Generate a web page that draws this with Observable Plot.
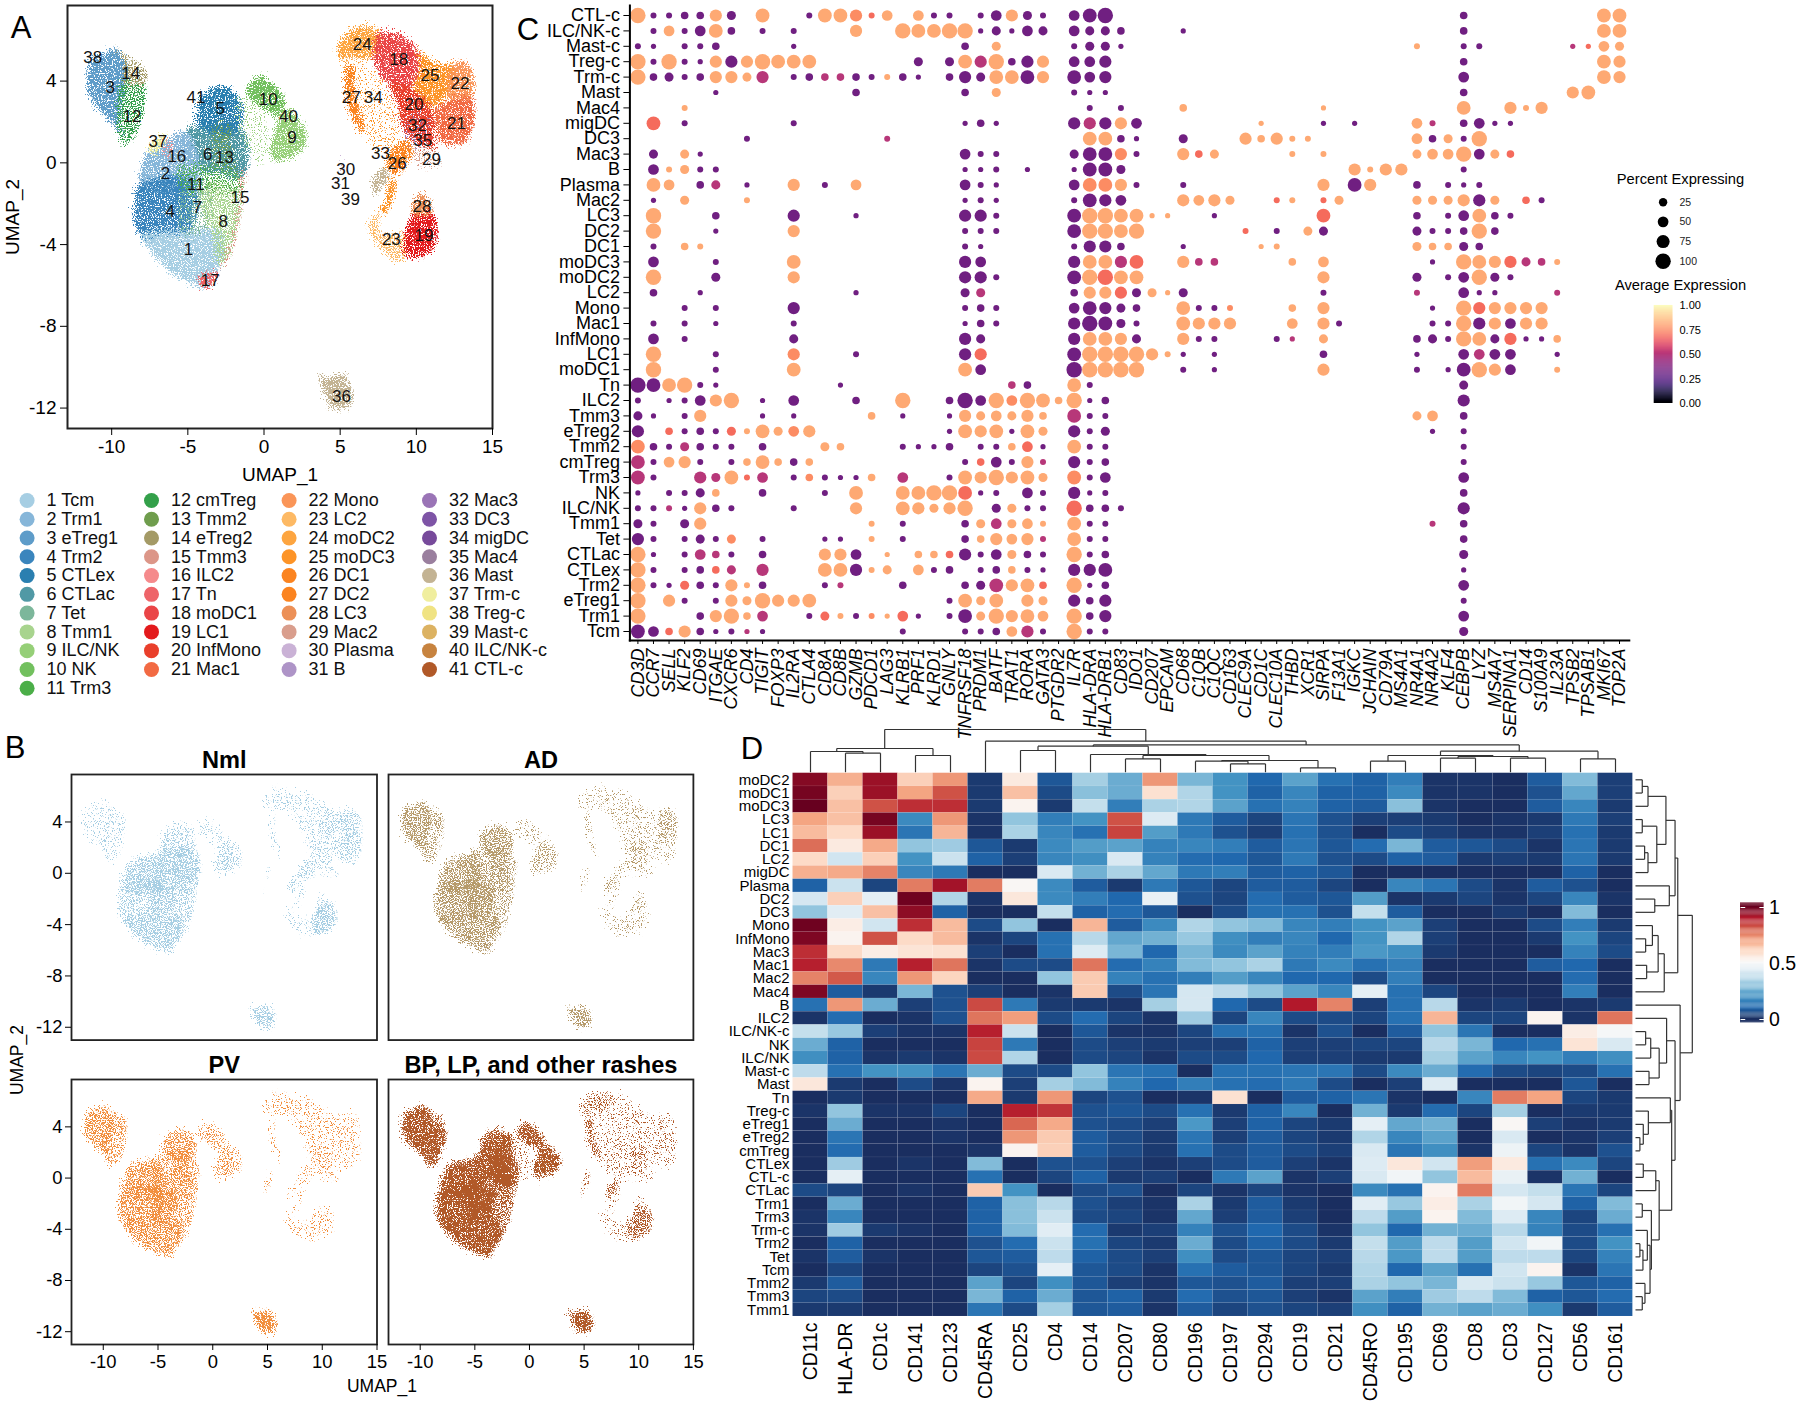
<!DOCTYPE html>
<html>
<head>
<meta charset="utf-8">
<script src="https://cdn.jsdelivr.net/npm/d3@7"></script>
<script src="https://cdn.jsdelivr.net/npm/@observablehq/plot@0.6"></script>
<style>
html,body{margin:0;padding:0;background:#fff}
#stage{position:relative;width:1800px;height:1406px;overflow:hidden;font-family:"Liberation Sans",Arial,sans-serif;color:#000}
.lab{position:absolute;white-space:nowrap;line-height:1}
</style>
</head>
<body>
<svg width="0" height="0" style="position:absolute" id="defs"></svg>
<div id="stage"></div>
<script>
/* ---------- cluster names and colours ---------- */
const clusterNames = ["Tcm","Trm1","eTreg1","Trm2","CTLex","CTLac","Tet","Tmm1","ILC/NK","NK","Trm3","cmTreg","Tmm2","eTreg2","Tmm3","ILC2","Tn","moDC1","LC1","InfMono","Mac1","Mono","LC2","moDC2","moDC3","DC1","DC2","LC3","Mac2","Plasma","B","Mac3","DC3","migDC","Mac4","Mast","Trm-c","Treg-c","Mast-c","ILC/NK-c","CTL-c"];
const clusterColors = ["#a6cee3","#86b6d9","#5e9cc9","#3a85bd","#2a7fb0","#5199a5","#7cb79b","#a8d48e","#95cf77","#72c05e","#4bae48","#33a04a","#6f9d4d","#a49a66","#dc9688","#f58a8c","#ee6469","#ea4547","#e31a1c","#e93f2b","#f26a43","#fa9558","#fdb964","#fda540","#fd9427","#fb8420","#fb8420","#ec9057","#d99e8d","#cab2d6","#ae94c7","#9a74b6","#7e54a6","#774a9b","#9a7f9e","#c3b393","#f0ee9e","#f0e383","#dcb262","#c7833f","#b15928"];
const legendSplits = [11,21,31,41];

/* ---------- UMAP cluster label positions (UMAP_1, UMAP_2) ---------- */
const clusterLabelXY = [[-4.96,-4.24],[-6.47,-.5],[-10.1,3.67],[-6.16,-2.4],[-2.87,2.64],[-3.7,.39],[-4.36,-2.17],[-2.67,-2.89],[1.84,1.22],[.28,3.08],[-4.47,-1.06],[-8.66,2.27],[-2.6,.26],[-8.75,4.36],[-1.58,-1.68],[-5.72,.29],[-3.53,-5.76],[8.84,5.07],[10.5,-3.57],[9.85,2.85],[12.63,1.92],[12.87,3.87],[8.36,-3.75],[6.45,5.81],[10.9,4.29],[8.75,-.05],[5.72,3.18],[10.37,-2.14],[10.99,.16],[5.37,-.34],[5.02,-1],[10.07,1.84],[7.65,.46],[7.17,3.18],[10.42,1.09],[5.09,-11.44],[-6.97,1.03],[-11.25,5.15],[5.68,-1.81],[1.6,2.25],[-4.47,3.18]];

/* ---------- UMAP region outlines ---------- */
const regionIds = ["3","12","14","6","5","13","2","4","1","7","8","11","15","17","16","37","gsc","10","9","ring","24","18","25","22","21","20","3235","29","26","27","36s","23s","23","19","28","30","36"];
const regionCluster = [3,12,14,6,5,13,2,4,1,7,8,11,15,17,16,37,9,10,9,25,24,18,25,22,21,20,32,29,26,27,36,25,23,19,28,30,36];
const regionShapes = [
 [[-10.7,5.25],[-9.7,5.6],[-9.1,5],[-8.9,4],[-9.2,3.05],[-9.4,1.9],[-9.1,1.25],[-9.85,1.9],[-10.9,2.7],[-11.5,3.55],[-11.5,4.5],[-11.2,5.2]],
 [[-9.2,4],[-7.75,3.85],[-7.65,3.05],[-8.1,1.75],[-8.4,1.25],[-9.1,.95],[-9.5,1.75],[-9.5,3.05]],
 [[-9.7,5.6],[-8.5,5],[-7.75,4.6],[-7.65,3.85],[-9.1,4],[-9.1,5]],
 [[-5,1.65],[-3.25,1.9],[-1.6,1.75],[-.95,.75],[-1.4,-.7],[-3.05,-.55],[-4.15,-.4],[-5.35,.3]],
 [[-4.15,3.2],[-3.05,3.75],[-2.15,3.6],[-1.5,3.05],[-1.4,1.9],[-1.95,1.4],[-3.25,1.4],[-4.35,1.9],[-4.35,2.55]],
 [[-3.05,1.85],[-1.95,1.9],[-1.95,.75],[-1.5,-.35],[-3.05,-.35],[-3.25,.75]],
 [[-7.55,.6],[-6.35,1.15],[-5,1.5],[-4.15,-.2],[-4.35,-1.35],[-7.85,-1.35],[-8.1,-.7]],
 [[-8.15,-1.1],[-4.6,-.85],[-4.8,-3.3],[-6.75,-3.65],[-7.65,-3.8],[-8.3,-3.3],[-8.4,-2.15]],
 [[-8,-3.5],[-5,-3.3],[-2.85,-3.3],[-2.6,-4.6],[-3.05,-5.25],[-3.7,-6.1],[-4.8,-5.85],[-5.9,-5.45],[-7.1,-4.6],[-7.75,-3.95]],
 [[-5.15,-1.35],[-3.25,-.95],[-3.6,-3.3],[-5.15,-3.5]],
 [[-3.9,-1.1],[-1.4,-1.35],[-1.6,-3],[-2.15,-4.45],[-2.85,-4.95],[-3.25,-3.5],[-3.9,-2.5]],
 [[-5.45,-.2],[-3.25,-.15],[-1.2,-.55],[-1.3,-1.35],[-3.7,-1.35],[-5.25,-1.35]],
 [[-1.35,-.45],[-.95,-.45],[-1.2,-1.7],[-1.45,-3.15],[-2.15,-4.7],[-2.7,-5.1],[-2.4,-4.6],[-1.7,-3],[-1.4,-1.35]],
 [[-4.35,-5.75],[-3.05,-5.35],[-3.25,-5.9],[-3.7,-6.1]],
 [[-6.35,1.15],[-5.7,.75],[-5.9,.3],[-6.45,.45]],
 [[-7.55,.7],[-7,1.15],[-6.35,1.35],[-6.55,.95],[-7.2,.45]],
 [[-1.4,3.2],[.25,2.55],[.45,.75],[.05,-.05],[-.85,.75],[-1.4,1.6]],
 [[-1.05,3.65],[-.3,4.25],[.25,4.1],[1.45,2.9],[.9,2.3],[0,2.65],[-1.05,3.3]],
 [[1,2.3],[1.55,2.65],[2.45,2],[2.85,1.4],[2.65,.7],[1.8,.3],[.7,.1],[.45,.75],[.8,1.6]],
 [[5.5,5],[8.35,3.85],[9.25,1.6],[8.35,.3],[6.8,1.4],[5.95,3.2]],
 [[4.85,5.65],[5.7,6.45],[6.8,6.7],[7.7,6.3],[7.25,5.15],[5.95,5.15],[5.05,5.1]],
 [[7.5,6.3],[9.05,6.25],[10.1,5.5],[10.35,4.75],[9.65,3.7],[8.35,3.85],[7.35,4.85]],
 [[10.1,5.5],[11.4,4.85],[12.5,4.75],[12.3,3.55],[11,2.7],[9.9,3.7],[10.35,4.75]],
 [[12.3,4.7],[13.05,5],[13.7,4.45],[13.7,3.2],[12.3,2.9],[12.1,3.85]],
 [[11.2,2.55],[12.3,3.05],[13.7,3.2],[13.7,1.6],[13.05,.95],[11.85,1],[11.3,1.75]],
 [[8.35,3.85],[9.65,3.7],[11,2.7],[11.3,1.4],[11.2,.75],[10.1,.95],[9.25,1.6],[8.8,2.9]],
 [[9.55,2.25],[11,2.25],[11,.75],[9.8,.6]],
 [[9.8,.6],[11.2,.75],[11.85,.1],[10.55,-.15]],
 [[8.15,.3],[9.35,1.1],[9.8,.6],[8.8,-.55],[8.25,-.4]],
 [[5.5,4.7],[5.9,4.7],[6.05,3.2],[6.6,1.85],[6.4,1.5],[5.95,2.05],[5.5,3.05]],
 [[7.15,-1],[7.7,-.35],[8.25,-.4],[7.7,-1.35],[7.35,-1.5]],
 [[8.35,-.85],[8.65,-.85],[8.45,-1.85],[7.9,-2.5],[7.6,-2.5],[8.05,-1.85]],
 [[6.95,-3],[7.6,-2.5],[7.9,-3.5],[9.25,-3.5],[9.45,-4.6],[8.9,-4.85],[8.15,-4.45],[7.5,-3.95]],
 [[9.9,-2.5],[11,-2.4],[11.4,-3.15],[11.2,-4.1],[10.35,-4.6],[9.45,-4.6],[9.25,-3.8]],
 [[9.9,-1.85],[10.45,-1.5],[11,-2],[11,-2.45],[9.9,-2.6]],
 [[4.85,-1.35],[5.3,-.05],[5.55,.45],[5.6,-.2],[5.05,-1]],
 [[3.65,-10.25],[3.95,-10.55],[5.3,-10.4],[5.85,-11.45],[5.5,-11.95],[4.6,-11.95],[3.95,-11.15]]
];
/* density level per region: 0 none, 1 sparse, 2 medium, 3 full, 4 solid */
const densityAll = [4,3,3,4,4,2,4,4,4,2,3,2,2,4,2,4,1,4,4,1,4,4,4,4,4,4,1,2,4,4,4,4,3,4,4,1,4];
const densityNml = [1,1,1,3,2,1,3,2,3,2,2,2,0,1,1,0,0,1,2,0,1,1,2,2,2,1,1,1,2,1,2,2,1,3,1,1,3];
const densityAD  = [3,2,2,2,3,2,3,3,3,3,2,2,0,1,2,1,0,1,2,0,1,1,1,2,1,1,1,1,1,1,2,1,1,1,1,2,3];
const densityPV  = [3,2,2,2,3,2,3,3,3,3,2,2,0,1,2,2,0,2,2,0,1,1,1,1,1,1,1,1,1,1,1,1,1,1,0,2,4];
const densityBP  = [4,4,3,4,4,4,4,4,4,4,3,3,0,3,4,4,1,4,4,1,2,1,1,1,1,1,1,1,1,3,3,1,1,3,1,3,4];
const panelTitles = ["Nml","AD","PV","BP, LP, and other rashes"];
const panelColors = ["#a6cee3","#b69a6a","#f28e3c","#b15928"];

/* ---------- dot plot ---------- */
const dotCells = ["CTL-c","ILC/NK-c","Mast-c","Treg-c","Trm-c","Mast","Mac4","migDC","DC3","Mac3","B","Plasma","Mac2","LC3","DC2","DC1","moDC3","moDC2","LC2","Mono","Mac1","InfMono","LC1","moDC1","Tn","ILC2","Tmm3","eTreg2","Tmm2","cmTreg","Trm3","NK","ILC/NK","Tmm1","Tet","CTLac","CTLex","Trm2","eTreg1","Trm1","Tcm"];
const dotGenes = ["CD3D","CCR7","SELL","KLF2","CD69","ITGAE","CXCR6","CD4","TIGIT","FOXP3","IL2RA","CTLA4","CD8A","CD8B","GZMB","PDCD1","LAG3","KLRB1","PRF1","KLRD1","GNLY","TNFRSF18","PRDM1","BATF","TRAT1","RORA","GATA3","PTGDR2","IL7R","HLA-DRA","HLA-DRB1","CD83","IDO1","CD207","EPCAM","CD68","C1QB","C1QC","CD163","CLEC9A","CD1C","CLEC10A","THBD","XCR1","SIRPA","F13A1","IGKC","JCHAIN","CD79A","MS4A1","NR4A1","NR4A2","KLF4","CEBPB","LYZ","MS4A7","SERPINA1","CD14","S100A9","IL23A","TPSB2","TPSAB1","MKI67","TOP2A"];
/* gene index, expression class, size class */
const dotTokens = [
"0o8 1p2 2p2 3p3 4p3 5o6 6p4 8o7 11p2 12o7 13o7 14s6 15r2 16o5 18o5 19p2 20p2 22p2 23p5 24o6 25p4 26p2 28p5 29p7 30p8 53p3 62o7 63o7",
"1p2 2o5 3p2 4p5 5o7 6p3 8p2 10p2 14o6 17o8 18o7 19o7 20o8 21o8 22p1 23p4 24p1 25p5 26p4 28p5 29p4 30p4 31p3 35p1 53p3 62o7 63o7",
"0p2 1p1 3p2 4p2 5p3 10p1 21p3 23o4 28p2 29p4 30p4 31p1 50o2 53p2 54p2 60m1 61r1 62o5 63o4",
"0o8 1p2 2o8 3p2 4p1 5o6 6p6 7o6 8o8 9o7 10o7 11o7 18p4 20p4 21o7 22m6 23o8 24p3 25p6 26o6 28p5 29p5 30p6 53p3 62o7 63o6",
"0o8 1p3 2p4 3p2 4p3 5o6 6o6 7o4 8m6 10p2 11p3 12m3 13m3 14p3 15p2 16o2 17p3 18p1 20p3 21p6 22p4 23o7 24o7 25p7 26o6 28p7 29p5 30p6 53p5 62o7 63o6",
"5p1 14p3 21p3 23o4 28p2 29p1 30p1 53p3 60o6 61o7",
"3o2 29p2 31p2 35o3 44o1 53o7 56o6 57o2 58o6",
"1r7 3p2 10p2 21p1 22p3 23p1 28p6 29m6 30p6 31o6 32p5 40o1 44p1 46p1 50o5 51m2 53p3 54p5 55p1 56p1",
"7p2 16m2 29o7 30o7 31p3 32p1 35p4 39o6 40o3 41o6 42o2 43o2 50o5 51p3 52o4 53p2 54o8",
"1p4 3o4 4p1 21p5 22p2 23p2 28p4 29p7 30p7 31s6 32p2 35o6 36r3 37o4 42o2 44o2 50o4 51o5 52o5 53o8 54p5 55o4 56r3",
"1p5 2o2 3o4 4p2 5p2 21p1 22p1 23p2 25p1 28p1 29p7 30p7 31p4 46o6 47o2 48o6 49o6 53p2",
"1o7 2o5 4p3 5m4 7p1 10o6 12p2 14o5 21p5 22p2 23p1 28p5 29s7 30s7 31o6 32p2 35p2 44o6 46p7 47o6 50p3 52p2 53p1 54p2",
"1p1 3o4 7o2 21p1 22p2 23p1 28p2 29p7 30p6 31p5 35o6 36o5 37o6 38o4 41r2 42o2 44r2 45o4 50o4 51o4 52o4 53o6 54p6 55o4 57r3 58p2",
"1o8 5p3 10p6 14p1 21p6 22p6 23p2 28p7 29o8 30o8 31o7 32o7 33o1 34o1 37p1 44r7 50p3 52p2 53p5 54o7 55p3 56p2",
"1o8 5p1 10o6 21p2 22p2 23p2 28p7 29o8 30o8 31o7 32o8 39r2 41p2 43o4 44p4 50p4 51p2 52p2 53p3 54o8 55p3",
"1p2 3o3 4o2 21p2 22p1 28p2 29p6 30p6 31p3 35p1 40o1 41o2 50o4 51o3 52o3 53p4 54p3",
"1p5 5p2 10o7 21p6 22p5 28p6 29o7 30o7 31m6 32r7 35o6 36m3 37m3 42o3 44o5 51p1 53o8 54o7 55o6 56r6 57m4 58m3 59o2",
"1o8 5p4 10o6 21p6 22p6 23p2 28p7 29o8 30r8 31o7 32o7 44o6 50p4 52p2 53p5 54o8 55p4 56p2",
"1p3 4p1 14p1 21p4 22m4 28p3 29o6 30o6 31r6 32p4 33o4 34o1 35p4 44p2 50m2 53p5 54p1 55p1 59m2",
"3p2 5p2 10p6 21p2 22p3 23p2 28p5 29p7 30p6 31p4 32p3 35o7 36p2 37p2 38s2 42o3 44o6 51p1 53o8 54r6 55o6 56o6 57o6 58o6",
"1p2 3p2 5p1 10p2 21p1 22p3 23p2 28p6 29p8 30p7 31p4 32p2 35o7 36o6 37o6 38o6 42o5 44o6 45p2 51p2 52p2 53o8 54p6 55o6 56p5 57o6 58o6",
"1p5 3p2 10p4 21p6 22p4 28p6 29o7 30o7 31o6 32p4 35o6 36p2 37p2 41p2 42m1 44o4 50p3 51p4 52p2 53o8 54o7 55p4 56r6 57p1 58p1 59o3",
"1o8 5p2 10s6 14p2 21p6 22r6 28p7 29o8 30o8 31o8 32o8 33o6 34o2 35p1 37p1 44p3 50p1 53p5 54m5 55p5 56p5 59p1",
"1o8 5p2 10o7 21o7 22p5 28p8 29o8 30o8 31o8 32o8 35p2 37p1 44o6 50p2 52p1 53p7 54o8 55o6 56p5 59o2",
"0p8 1p7 2o7 3o8 4p2 5p1 13p1 24m3 25p3 28o7 29p2 53p4",
"0p2 2p1 3p2 4p5 5o6 6o8 8p1 10p5 14p3 17o8 20p3 21p8 22p5 23o8 24s5 25o8 26o7 27o3 28o8 29p1 30p3 53p6",
"0p4 1p1 3p2 4o6 8p1 10p1 15o3 17p1 20p1 21o6 22o4 23o5 24o4 25o6 26o3 28m7 29p2 30p2 50o4 51o5 53p3",
"0p6 2r3 3p2 4p3 5p2 6r4 7o2 8o7 9o4 10s5 11o6 20p1 21o7 22o6 23o7 24p1 25o7 26o4 28p6 29p2 30p4 51p1 53p2",
"0s7 1p3 2p2 3m4 4p3 5p2 6p2 8p3 12o4 13o3 17p2 18p1 19p1 20p3 22p2 23p2 24o3 25r5 26p1 28o7 29p2 30p2 53p2",
"0m7 1p2 2o5 3o6 4p2 6p2 7o3 8o7 9o3 10p3 11o3 21p2 22r3 23p5 24p2 25o6 26m2 28p6 29p2 30p3 53p2",
"0m7 1p2 4m6 5m4 6o7 7r2 8m5 10p2 11s3 12p2 13p1 14p1 15o3 17m5 20p2 21o7 22o6 23o8 24o6 25o7 26o4 28s7 29p2 30p5 53p5",
"0p1 2p2 3p2 4p4 5o3 8p3 12p2 14o7 17o7 18o7 19o8 20o8 21r7 22p1 23p2 25p5 26p2 28p6 29p1 30p2 53p3",
"0p2 1p2 2m2 3p1 4o6 5p3 6p2 10p2 14o6 17o7 18o6 19o4 20o6 21o8 23p4 24o4 25p2 26p2 28r8 29p3 30p3 31p2 53p6",
"0p4 1p2 3p4 4o6 15o2 17p2 21p3 22o4 23m5 24o4 25o5 26o2 28o7 29p2 30p2 51m2 53p3",
"0p6 1p2 3p2 4p4 5p2 6s4 8p2 12p1 13p1 15o2 17p2 21p3 22o3 23o6 24o5 25o6 26m2 28o7 29p2 30p2 53p3",
"0o8 1p1 3p2 4m5 5m3 6p2 8p3 12o6 13o6 14p5 16o1 18o3 19o3 20r3 21p6 22p2 23p5 24o4 25p3 26p2 28o8 29p2 30p3 53p4",
"0o8 1p2 3p2 4p3 5r3 6m4 8m6 12o7 13o7 14p6 15o2 16o4 18o5 19p2 20p3 22p2 23p3 24o3 25p2 26p1 28p6 29p6 30p7 53p1",
"0o8 1p2 2p1 3r4 4p3 5p2 6o6 7o2 8p3 12p2 13m2 17p3 21p3 22p4 23m7 24o6 25o7 26r3 28o8 29p1 30p3 53p5",
"0o8 2o6 3p2 5p2 6o6 7o4 8o8 9o6 10o6 11o7 20p2 21o7 22o4 23o7 25o6 26o4 28p6 29p3 30p6 53p2",
"0o8 4p3 5o6 6o8 7o3 8m5 11p2 12r4 13o2 14p2 15s2 16o1 17r5 18p1 20p2 21p7 22o4 23o8 24o6 25o7 26o5 28o8 29p3 30p6 53p5",
"0p7 1p5 2r3 3o6 4p3 5p1 6p2 7m1 8p1 17p2 21p2 22p2 23p3 24o5 25m6 26p2 28o8 29p2 30p2 53p4"
];
const exprClass = {o:.82, s:.76, r:.69, m:.5, p:.33};
const pctClass = [0,5,10,20,32,50,66,83,100];
const legendPct = [25,50,75,100];

/* ---------- heat map ---------- */
const hmRows = ["moDC2","moDC1","moDC3","LC3","LC1","DC1","LC2","migDC","Plasma","DC2","DC3","Mono","InfMono","Mac3","Mac1","Mac2","Mac4","B","ILC2","ILC/NK-c","NK","ILC/NK","Mast-c","Mast","Tn","Treg-c","eTreg1","eTreg2","cmTreg","CTLex","CTL-c","CTLac","Trm1","Trm3","Trm-c","Trm2","Tet","Tcm","Tmm2","Tmm3","Tmm1"];
const hmCols = ["CD11c","HLA-DR","CD1c","CD141","CD123","CD45RA","CD25","CD4","CD14","CD207","CD80","CD196","CD197","CD294","CD19","CD21","CD45RO","CD195","CD69","CD8","CD3","CD127","CD56","CD161"];
const hmValues = [
[.96,.68,.93,.62,.72,.02,.55,.07,.33,.25,.72,.27,.2,.1,.23,.12,.09,.15,.01,.01,0,.08,.28,.03],
[.98,.62,.93,.7,.82,.02,.65,.05,.29,.25,.58,.35,.2,.09,.17,.09,.09,.18,.01,.01,0,.06,.24,.03],
[1,.65,.82,.87,.87,.02,.52,.02,.38,.15,.34,.35,.23,.12,.16,.09,.08,.29,.01,0,0,.08,.17,.02],
[.7,.65,.98,.18,.72,.01,.3,.15,.2,.82,.43,.14,.08,.04,.13,.06,.03,.03,.02,0,.01,.02,.14,.03],
[.66,.6,.93,.13,.67,.01,.34,.17,.12,.84,.22,.14,.06,.03,.12,.06,0,.05,.03,.01,.01,.03,.12,.02],
[.78,.55,.69,.3,.32,.07,.02,.18,.22,.23,.16,.17,.15,.08,.13,.07,.11,.27,.08,.07,.05,.01,.13,.02],
[.6,.4,.62,.2,.39,.09,.03,.17,.19,.42,.16,.11,.1,.07,.14,.06,.05,.09,.08,.02,.03,.02,.13,.02],
[.68,.69,.75,.17,.14,0,0,.42,.26,.34,.24,.14,.15,.08,.09,.07,0,0,0,0,0,0,.09,0],
[.09,.39,.04,.76,.92,.76,.51,.18,.08,.02,.14,.07,.04,.08,.08,.04,0,.17,.13,.05,.01,.08,.06,0],
[.41,.62,.45,.99,.35,.01,.56,.18,.15,.1,.46,.06,.04,.11,.08,.07,.22,.01,.02,.04,.01,.04,.17,.01],
[.3,.44,.65,.95,.09,0,0,.38,.09,.11,.07,0,.05,.12,.12,.06,.38,.08,0,0,.02,0,.28,0],
[.99,.54,.4,.87,.66,.05,.3,0,.67,.08,.18,.35,.3,.28,.17,.15,.2,.23,.03,0,0,.05,.15,.02],
[.97,.52,.82,.6,.66,.01,.04,.12,.36,.24,.26,.31,.19,.15,.17,.1,.2,.35,.03,0,0,.02,.2,.04],
[.87,.6,.54,.57,.58,.03,0,.12,.43,.27,.1,.27,.18,.23,.16,.15,.21,.19,.02,0,0,0,.16,.05],
[.89,.74,.14,.89,.77,.01,.05,.05,.77,.11,.16,.28,.3,.34,.14,.18,.12,.15,0,0,0,.08,.1,0],
[.75,.81,.17,.72,.61,0,0,.3,.63,.16,.12,.15,.22,.17,.1,.1,.05,.15,0,0,0,0,.11,0],
[.97,.08,.02,.27,.06,.03,0,.01,.63,.05,.13,.41,.37,.3,.23,.17,.45,.12,.04,0,0,0,.15,0],
[.12,.72,.25,.03,.06,.83,.14,.02,.02,.01,.33,.41,.1,.05,.9,.75,.03,.12,.36,.01,.02,0,.01,.02],
[.01,.11,0,.01,.06,.77,.71,.05,.11,.04,.01,.32,.04,.17,.05,.05,.04,.12,.67,.04,.04,.52,.01,.77],
[.38,.31,.03,.01,.01,.89,.39,0,.07,.01,.01,.04,.12,.12,.01,.06,0,.08,.3,.13,0,0,.54,.49],
[.25,.09,0,0,0,.84,.14,0,.05,.03,.02,.03,.03,.09,.03,.03,.04,.04,.36,.27,.1,.12,.57,.42],
[.19,.09,.01,.02,.01,.83,.35,0,.05,.04,.01,.05,.05,.1,.03,.03,.02,.02,.33,.23,.17,.2,.15,.19],
[.37,.12,.2,.2,.13,.25,.05,.05,.3,.13,.12,0,.12,.12,.13,.13,.05,.18,.25,.11,.05,.04,.05,.12],
[.56,.02,0,.05,.01,.52,.03,.33,.28,.16,.1,.15,.12,.11,.14,.05,0,.03,.43,0,0,0,.07,0],
[0,.02,0,0,0,.69,.02,.72,.04,.06,0,.01,.58,0,.08,.09,.13,.01,0,.17,.76,.7,.04,.02],
[.01,.3,.01,.01,.04,0,.89,.86,.06,.07,.05,.12,.02,.09,.17,0,.26,.02,.11,.04,.33,0,.02,.02],
[0,.25,0,0,.01,0,.79,.69,.06,.05,.03,.21,.03,.09,.04,.02,.45,.24,.26,0,.51,.03,.01,.02],
[0,.13,0,0,.01,0,.72,.63,.08,.05,.02,.13,.03,.08,.04,.02,.35,.17,.23,0,.42,0,.01,.03],
[0,.11,0,0,0,.01,.52,.62,.08,.05,.02,.12,.05,.08,.05,.03,.42,.13,.19,.01,.47,.04,.01,.06],
[0,.32,0,.01,0,.28,0,.06,.06,.03,.01,.03,.05,.08,.03,.01,.43,.56,.4,.71,.55,.12,.18,.04],
[0,.45,0,0,0,.12,0,.04,.09,.02,.03,0,.14,.23,.01,.03,.42,.48,.3,.66,.46,.01,.26,0],
[.05,.04,0,.01,0,.63,.2,0,.05,.06,0,.04,.01,.04,.01,0,.18,.12,.52,.76,.41,.38,.13,.04],
[0,.25,0,0,0,.09,.29,.36,.06,.03,.01,.34,.02,.08,.02,0,.44,.31,.54,.34,.48,.41,.09,.28],
[.01,.17,0,0,0,.09,.29,.39,.05,.04,.01,.24,.03,.08,.03,0,.37,.22,.52,.28,.43,.17,.04,.25],
[.01,.32,.02,.01,0,.09,.28,.44,.11,.02,.03,.16,.06,.1,.05,.01,.3,.1,.26,.25,.36,.16,.05,.12],
[0,.09,0,0,0,.06,.11,.39,.12,.04,.02,.25,.05,.09,.05,.02,.38,.22,.37,.22,.4,.48,.05,.2],
[.01,.08,.01,0,0,.07,.08,.37,.09,.05,.03,.19,.05,.07,.04,.03,.36,.21,.37,.22,.37,.37,.04,.16],
[0,.04,0,0,0,.04,.06,.45,.07,.05,.01,.12,.08,.07,.04,.02,.35,.1,.23,.12,.4,.52,.01,.13],
[.02,.08,0,0,0,.23,.04,.19,.07,.03,.01,.07,.06,.08,.03,.03,.34,.3,.27,.42,.39,.31,.07,.09],
[.04,.05,0,0,0,.27,.09,.25,.07,.09,.02,.11,.06,.07,.03,.01,.23,.15,.32,.37,.28,.09,.07,.11],
[.02,.02,0,0,0,.13,.05,.33,.07,.08,.01,.08,.04,.06,.04,.03,.19,.09,.26,.23,.25,.19,.02,.08]
];
const hmStops = [0,.1,.2,.3,.4,.5,.6,.7,.8,.9,1];
const hmPalette = ["#1a2e60","#2068ae","#4393c3","#92c5de","#d1e5f0","#f9f9f9","#fddbc7","#f4a582","#d6604d","#b2182b","#67001f"];
/* dendrograms: child a position, child b position, merge height, height of child a, height of child b */
const topMerges = [[1,2,19,0,0],[0,1.5,20.7,0,19],[3,4,16.7,0,0],[.75,3.5,23.7,20.7,16.7],[6,7,21.7,0,0],[9,10,13.3,0,0],[12,13,8.3,0,0],[11,12.5,11,0,8.3],[14,15,4.3,0,0],[11.75,14.5,11.7,11,4.3],[9.5,13.1,16.7,13.3,11.7],[8,11.3,17.7,0,16.7],[6.5,9.65,26,21.7,17.7],[18,19,14,0,0],[20,21,14,0,0],[18.5,20.5,15.7,14,14],[16,17,11,0,0],[16.5,19.5,16.7,11,15.7],[22,23,13.3,0,0],[18,22.5,21,16.7,13.3],[8.08,20.25,27.3,26,21],[5,14.16,31,0,27.3],[2.12,9.58,42.7,23.7,31]];
const sideMerges = [[0,1,20,0,0],[.5,2,37,20,0],[3,4,20,0,0],[5,6,27,0,0],[5.5,7,37,27,0],[3.5,6.25,63,20,37],[1.25,4.875,90,37,63],[9,10,57,0,0],[8,9.5,100,0,57],[3.06,8.75,117,90,100],[12,13,30,0,0],[11,12.5,50,0,30],[14,15,33,0,0],[11.75,14.5,67,50,33],[13.125,16,85,67,0],[5.906,14.56,125,117,85],[19,20,30,0,0],[19.5,21,45,30,0],[22,23,40,0,0],[20.25,22.5,70,45,40],[18,21.375,92,0,70],[27,28,13,0,0],[26,27.5,23,0,13],[25,26.75,38,0,23],[24,25.875,103,0,38],[29,30,23,0,0],[29.5,31,60,23,0],[32,33,20,0,0],[35,36,13,0,0],[35.5,37,22,13,0],[34,36.25,35,0,22],[39,40,20,0,0],[38,39.5,28,0,20],[35.125,38.75,43,35,28],[32.5,36.94,47,20,43],[30.25,34.72,70,60,47],[24.94,32.48,107,103,70],[19.69,28.71,117,92,107],[17,24.2,132,0,117],[10.23,20.6,168,125,132]];

/* ---------- helpers ---------- */
const FONT = '"Liberation Sans",Arial,sans-serif';
const stage = document.getElementById("stage");
const baseStyle = {background:"transparent",fontFamily:FONT,overflow:"visible",maxWidth:"none",color:"#000"};
function place(el,left,top){el.style.position="absolute";el.style.left=left+"px";el.style.top=top+"px";stage.appendChild(el);return el;}
function label(text,left,top,size,extra){
  const d=document.createElement("div");d.className="lab";d.textContent=text;
  d.style.left=left+"px";d.style.top=top+"px";d.style.fontSize=size+"px";
  d.style.transform="translate(-50%,-50%)"+(extra&&extra.rotate?" rotate(-90deg)":"");
  stage.appendChild(d);
}
/* speckle texture: the outlines are broken into fine grain so they read as scatter clouds */
(function(){
  const svg=document.getElementById("defs");
  const thr={1:.6,2:.53,3:.47,4:.37};
  let html="";
  for(const lv of [1,2,3,4]) for(const v of [0,1,2]){
    const k=18, b=(-k*thr[lv]).toFixed(2);
    html+=`<filter id="g${lv}${v}" x="-25%" y="-25%" width="150%" height="150%" color-interpolation-filters="sRGB">
      <feTurbulence type="fractalNoise" baseFrequency="0.85" numOctaves="2" seed="${lv*7+v*13+2}" result="n"/>
      <feDisplacementMap in="SourceGraphic" in2="n" scale="${lv<=2?24:22}" xChannelSelector="R" yChannelSelector="G" result="d"/>
      <feColorMatrix in="n" type="matrix" values="0 0 0 0 0  0 0 0 0 0  0 0 0 0 0  ${k} 0 0 0 ${b}" result="m"/>
      <feComposite in="d" in2="m" operator="in"/>
    </filter>`;
  }
  svg.innerHTML=html;
})();
const tickStr=d=>String(d);
const xTicks=[-10,-5,0,5,10,15], yTicks=[4,0,-4,-8,-12];

function umapMarks(levels,colorOf){
  const marks=[];
  regionShapes.forEach((pts,i)=>{
    if(!levels[i]) return;
    marks.push(Plot.line(pts,{fill:colorOf(i),stroke:"none",curve:"catmull-rom-closed",imageFilter:`url(#g${levels[i]}${i%3})`}));
  });
  return marks;
}

/* ---------- Panel A ---------- */
place(Plot.plot({
  width:510,height:490,marginLeft:67,marginRight:18,marginTop:5,marginBottom:62,style:baseStyle,
  x:{domain:[-12.9,15],axis:null},y:{domain:[-13,7.7],axis:null},
  marks:[
    ...umapMarks(densityAll,i=>clusterColors[regionCluster[i]-1]),
    Plot.text(clusterLabelXY,{x:d=>d[0],y:d=>d[1],text:(d,i)=>String(i+1),fontSize:17,fill:"#111"}),
    Plot.frame({stroke:"#222",strokeWidth:2}),
    Plot.axisX(xTicks,{anchor:"bottom",tickSize:7,fontSize:19,tickFormat:tickStr,tickPadding:4,label:"UMAP_1",labelAnchor:"center",labelArrow:"none",labelOffset:52}),
    Plot.axisY(yTicks,{anchor:"left",tickSize:7,fontSize:19,tickFormat:tickStr,tickPadding:4,label:"UMAP_2",labelAnchor:"center",labelArrow:"none",labelOffset:62})
  ]
}),0,0);

/* Panel A legend */
const legendColumnX=[26.6,151,288.6,429];
const legendItems = clusterNames.map((n,i)=>{
  const col=legendSplits.findIndex(s=>i<s);
  const row=i-(col?legendSplits[col-1]:0);
  return {n:`${i+1} ${n}`,c:clusterColors[i],x:legendColumnX[col],row};
});
place(Plot.plot({
  width:600,height:200,margin:0,style:baseStyle,
  x:{domain:[0,600],range:[0,600],axis:null},
  y:{domain:[0,10],range:[10,197.7],axis:null},
  color:{type:"identity"},
  marks:[
    Plot.dot(legendItems,{x:"x",y:"row",r:7.5,fill:"c",stroke:"none"}),
    Plot.text(legendItems,{x:"x",y:"row",text:"n",textAnchor:"start",dx:19.5,fontSize:18,fill:"#111"})
  ]
}),0,490);

/* ---------- Panel B ---------- */
const panelLevels=[densityNml,densityAD,densityPV,densityBP];
panelTitles.forEach((title,i)=>{
  const col=i%2,row=i>>1;
  const fl=col?387.5:71, fr=col?692.4:376.5, ft=row?1079:774.4, fb=row?1344:1040;
  const ml=col?8:71, mt=32, mb=row?40:8, mr=col?30:8;
  const marks=[
    ...umapMarks(panelLevels[i],()=>panelColors[i]),
    Plot.frame({stroke:"#222",strokeWidth:1.8}),
    Plot.text([title],{frameAnchor:"top",lineAnchor:"middle",dy:-14.4,fontSize:23.6,fontWeight:"bold",fill:"#000"})
  ];
  if(row) marks.push(Plot.axisX(xTicks,{anchor:"bottom",tickSize:6,fontSize:18.4,tickFormat:tickStr,tickPadding:4,label:null}));
  if(!col) marks.push(Plot.axisY(yTicks,{anchor:"left",tickSize:6,fontSize:18.4,tickFormat:tickStr,tickPadding:3,label:null}));
  place(Plot.plot({
    width:(fr-fl)+ml+mr,height:(fb-ft)+mt+mb,marginLeft:ml,marginRight:mr,marginTop:mt,marginBottom:mb,style:baseStyle,
    x:{domain:[-12.9,15],axis:null},y:{domain:[-13,7.7],axis:null},marks
  }),fl-ml,ft-mt);
});
label("UMAP_2",18,1060,17.5,{rotate:true});
label("UMAP_1",382,1387,17.5);

/* ---------- Panel C ---------- */
const dotData = dotTokens.flatMap((line,r)=>line.split(" ").map(t=>{
  const m=t.match(/(\d+)([a-z])(\d)/);
  return {cell:dotCells[r],gene:dotGenes[+m[1]],expr:exprClass[m[2]],pct:pctClass[+m[3]]};
}));
const radiusOf=d3.scaleLinear().domain([5,25,100]).range([2.6,4.2,7.7]);
place(Plot.plot({
  width:1125,height:760,marginLeft:119.4,marginRight:6.3,marginTop:5,marginBottom:120,style:baseStyle,
  x:{type:"point",domain:dotGenes,range:[127.4,1109],padding:0,round:false},
  y:{type:"point",domain:dotCells,range:[15,631],padding:0,round:false},
  r:{type:"identity"},
  color:{type:"linear",scheme:"magma",domain:[0,1]},
  marks:[
    Plot.dot(dotData,{x:"gene",y:"cell",r:d=>radiusOf(d.pct),fill:"expr",stroke:"none"}),
    Plot.frame({anchor:"left",stroke:"#000",strokeWidth:2}),
    Plot.frame({anchor:"bottom",stroke:"#000",strokeWidth:2.2}),
    Plot.axisY({anchor:"left",tickSize:6,tickPadding:4,fontSize:18,label:null}),
    Plot.axisX({anchor:"bottom",tickSize:4,tickPadding:4,tickRotate:-90,fontSize:18,fontStyle:"italic",label:null})
  ]
}),510,0);

/* Panel C legends */
label("Percent Expressing",1680.5,179,14.7);
label("Average Expression",1680.5,285,14.7);
place(Plot.plot({
  width:120,height:90,margin:0,style:baseStyle,
  x:{domain:[0,1],range:[12.6,29],axis:null},
  y:{type:"point",domain:legendPct,range:[11.7,70.7],padding:0,round:false,axis:null},
  r:{type:"identity"},
  marks:[
    Plot.dot(legendPct,{x:()=>0,y:d=>d,r:d=>radiusOf(d),fill:"#000",stroke:"none"}),
    Plot.text(legendPct,{x:()=>1,y:d=>d,text:d=>String(d),textAnchor:"start",fontSize:10.5,fill:"#222"})
  ]
}),1650,190);
const magmaSteps=d3.range(0,100).map(v=>v/100);
place(Plot.plot({
  width:80,height:120,marginLeft:8.7,marginRight:52.5,marginTop:5,marginBottom:15,style:baseStyle,
  x:{domain:[0,1],axis:null},
  y:{domain:[0,1],range:[103,5],axis:null},
  color:{type:"linear",scheme:"magma",domain:[0,1]},
  marks:[
    Plot.rect(magmaSteps,{x1:()=>0,x2:()=>1,y1:d=>d,y2:d=>d+.0105,fill:d=>d+.005}),
    Plot.axisY([0,.25,.5,.75,1],{anchor:"right",tickSize:0,tickPadding:6.5,fontSize:11,tickFormat:d3.format(".2f"),label:null})
  ]
}),1645,300);

/* ---------- Panel D ---------- */
const hmColor={type:"linear",domain:hmStops,range:hmPalette,clamp:true};
const hmData=hmValues.flatMap((vals,r)=>vals.map((v,c)=>({row:hmRows[r],col:hmCols[c],v})));
place(Plot.plot({
  width:910,height:646,marginLeft:62.5,marginRight:7.6,marginTop:12.7,marginBottom:90,style:baseStyle,
  x:{type:"band",domain:hmCols,padding:0,round:false,axis:null},
  y:{type:"band",domain:hmRows,padding:0,round:false,axis:null},
  color:hmColor,
  marks:[
    Plot.cell(hmData,{x:"col",y:"row",fill:"v",inset:0,stroke:"#ffffff",strokeOpacity:.09,strokeWidth:.6}),
    Plot.axisY({anchor:"left",tickSize:0,tickPadding:3.5,fontSize:15,label:null}),
    Plot.axisX({anchor:"bottom",tickSize:0,tickPadding:6,tickRotate:-90,fontSize:19.4,label:null})
  ]
}),730,760);

function treeSegments(merges){
  return merges.flatMap(([a,b,h,ha,hb])=>[
    {p1:a,p2:b,h1:h,h2:h},{p1:a,p2:a,h1:ha,h2:h},{p1:b,p2:b,h1:hb,h2:h}
  ]);
}
place(Plot.plot({
  width:842,height:55,margin:0,style:baseStyle,
  x:{domain:[0,23],range:[18,823],axis:null},
  y:{domain:[0,45],range:[51.7,6.7],axis:null},
  marks:[Plot.link(treeSegments(topMerges),{x1:"p1",x2:"p2",y1:"h1",y2:"h2",stroke:"#333",strokeWidth:1.2})]
}),792,720);
place(Plot.plot({
  width:70,height:560,margin:0,style:baseStyle,
  x:{domain:[0,168],range:[0,56.8],axis:null},
  y:{domain:[0,40],range:[9.3,539.4],axis:null},
  marks:[Plot.link(treeSegments(sideMerges),{x1:"h1",x2:"h2",y1:"p1",y2:"p2",stroke:"#333",strokeWidth:1.2})]
}),1635,770);

/* Panel D colour bar */
const barSteps=d3.range(-3,104).map(v=>v/100);
place(Plot.plot({
  width:70,height:150,marginLeft:10,marginRight:36.4,marginTop:10,marginBottom:10,style:baseStyle,
  x:{domain:[0,1],axis:null},
  y:{domain:[0,1],range:[129,17],axis:null},
  color:hmColor,
  marks:[
    Plot.rect(barSteps,{x1:()=>0,x2:()=>1,y1:d=>d,y2:d=>d+.0105,fill:d=>Math.max(0,Math.min(1,d))}),
    Plot.link([0,1],{x1:()=>0,x2:()=>.2,y1:d=>d,y2:d=>d,stroke:"#fff",strokeWidth:1}),
    Plot.link([0,1],{x1:()=>.8,x2:()=>1,y1:d=>d,y2:d=>d,stroke:"#fff",strokeWidth:1}),
    Plot.axisY([0,.5,1],{anchor:"right",tickSize:0,tickPadding:5,fontSize:19.5,tickFormat:tickStr,label:null})
  ]
}),1730,890);

/* ---------- Panel letters ---------- */
label("A",21,27,31);
label("B",15,747,31);
label("C",528,29,31);
label("D",752,748,31);
</script>
</body>
</html>
